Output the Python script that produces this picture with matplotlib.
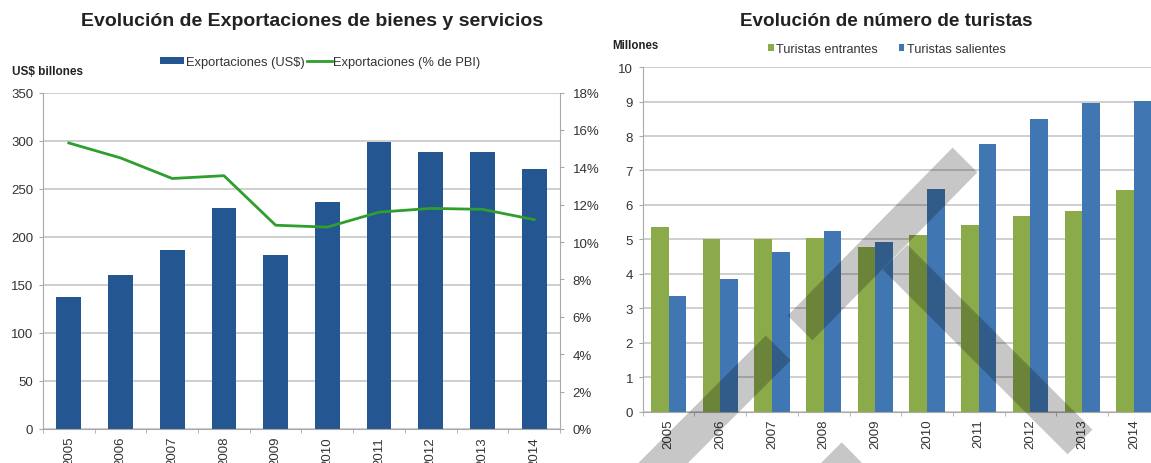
import matplotlib
matplotlib.use("Agg")
import matplotlib.pyplot as plt
from matplotlib.path import Path
from matplotlib.patches import PathPatch
from matplotlib.ticker import FuncFormatter
import numpy as np

plt.rcParams['font.family'] = ['Liberation Sans', 'DejaVu Sans']

# data
years = ['2005', '2006', '2007', '2008', '2009', '2010', '2011', '2012', '2013', '2014']
export_usd = [137, 160, 186, 230, 181, 236, 299, 288, 288, 270]
export_pbi = [15.3, 14.5, 13.4, 13.55, 10.9, 10.8, 11.6, 11.8, 11.75, 11.2]
tur_entrantes = [5.37, 5.01, 5.0, 5.05, 4.77, 5.13, 5.42, 5.67, 5.82, 6.42]
tur_salientes = [3.35, 3.85, 4.63, 5.24, 4.92, 6.45, 7.77, 8.5, 8.97, 9.02]

W, H = 1151, 464
fig = plt.figure(figsize=(W / 100, H / 100), dpi=100)

txt = '#333333'
grid = '#cccccc'
spine = '#aaaaaa'
x = np.arange(len(years))


def style_x(ax):
    ax.set_xlim(-0.5, len(years) - 0.5)
    ax.set_xticks(x)
    ax.set_xticklabels(years, rotation=90, fontsize=9.5, color=txt)
    ax.tick_params(axis='x', which='major', length=0, pad=5)
    ax.set_xticks(np.arange(len(years) + 1) - 0.5, minor=True)
    ax.tick_params(axis='x', which='minor', length=3, color=spine, direction='out')
    ax.tick_params(axis='y', length=3, color=spine, labelsize=9.5, labelcolor=txt, pad=4)
    for s in ['top', 'right']:
        ax.spines[s].set_visible(False)
    for s in ['left', 'bottom']:
        ax.spines[s].set_color(spine)
    ax.yaxis.grid(True, color=grid, lw=1.3)
    ax.set_axisbelow(True)


# left chart: exports
ax1 = fig.add_axes([43 / W, 1 - 430 / H, 517 / W, 336.5 / H])
style_x(ax1)
ax1.set_ylim(0, 350)
ax1.set_yticks(range(0, 351, 50))
b1 = ax1.bar(x, export_usd, width=0.48, color='#245692', label='Exportaciones (US$)')

ax2 = ax1.twinx()
ax2.set_ylim(0, 18)
ax2.set_yticks(range(0, 19, 2))
ax2.yaxis.set_major_formatter(FuncFormatter(lambda v, p: '%d%%' % v))
ax2.tick_params(axis='y', length=3, color=spine, labelsize=9.5, labelcolor=txt, pad=6)
for s in ['top', 'left', 'bottom']:
    ax2.spines[s].set_visible(False)
ax2.spines['right'].set_color(spine)
l1, = ax2.plot(x, export_pbi, color='#2E9E2E', lw=2, label='Exportaciones (% de PBI)')

fig.legend([b1, l1], ['Exportaciones (US$)', 'Exportaciones (% de PBI)'],
           loc='center', bbox_to_anchor=(320 / W, 1 - 63 / H), ncol=2, frameon=False,
           fontsize=9.3, handlelength=1.9, handletextpad=0.1, columnspacing=0.2,
           labelcolor=txt, handleheight=0.5)

fig.text(312 / W, 1 - 22 / H, 'Evolución de Exportaciones de bienes y servicios',
         ha='center', va='center', fontsize=14, fontweight='bold', color='#222222')
fig.text(12 / W, 1 - 72 / H, 'US$ billones', ha='left', va='center',
         fontsize=8.5, fontweight='bold', color='#222222')

# right chart: tourists
ax3 = fig.add_axes([642.7 / W, 1 - 412.7 / H, 517 / W, 344.6 / H])
style_x(ax3)
ax3.set_ylim(0, 10)
ax3.set_yticks(range(0, 11))
bw = 0.34
g = ax3.bar(x - bw / 2, tur_entrantes, width=bw, color='#8BAA4A', label='Turistas entrantes')
bl = ax3.bar(x + bw / 2, tur_salientes, width=bw, color='#4076B2', label='Turistas salientes')
fig.legend([g, bl], ['Turistas entrantes', 'Turistas salientes'],
           loc='center', bbox_to_anchor=(887 / W, 1 - 50 / H), ncol=2, frameon=False,
           fontsize=9.2, handlelength=0.45, handleheight=0.45, handletextpad=0.2,
           columnspacing=1.6, labelcolor=txt)

fig.text(886 / W, 1 - 21 / H, 'Evolución de número de turistas',
         ha='center', va='center', fontsize=13.6, fontweight='bold', color='#222222')
fig.text(612 / W, 1 - 46 / H, 'Millones', ha='left', va='center',
         fontsize=8.3, fontweight='bold', color='#222222')

# grey watermark strips over the picture (pixel coords, y down)
strips = [
    [(765.8, 336.5), (790.6, 361.3), (640.6, 511.3), (615.8, 486.5)],
    [(841.7, 443.3), (868, 470), (815, 470)],
    [(787.6, 316.6), (812.4, 341.4), (977.4, 173.4), (952.6, 148.6)],
    [(882.6, 270.4), (907.4, 245.6), (1092.4, 430.6), (1067.6, 455.4)],
]
verts, codes = [], []
for poly in strips:
    pts = [(px / W, 1 - py / H) for px, py in poly]
    # keep all polygons with the same orientation so overlaps fill once
    area = sum(pts[i][0] * pts[i - 1][1] - pts[i - 1][0] * pts[i][1] for i in range(len(pts)))
    if area < 0:
        pts = pts[::-1]
    verts += pts + [pts[0]]
    codes += [Path.MOVETO] + [Path.LINETO] * (len(pts) - 1) + [Path.CLOSEPOLY]
fig.add_artist(PathPatch(Path(verts, codes), transform=fig.transFigure,
                         facecolor='black', edgecolor='none', alpha=0.22, zorder=10))

fig.savefig('out.png', dpi=100)
